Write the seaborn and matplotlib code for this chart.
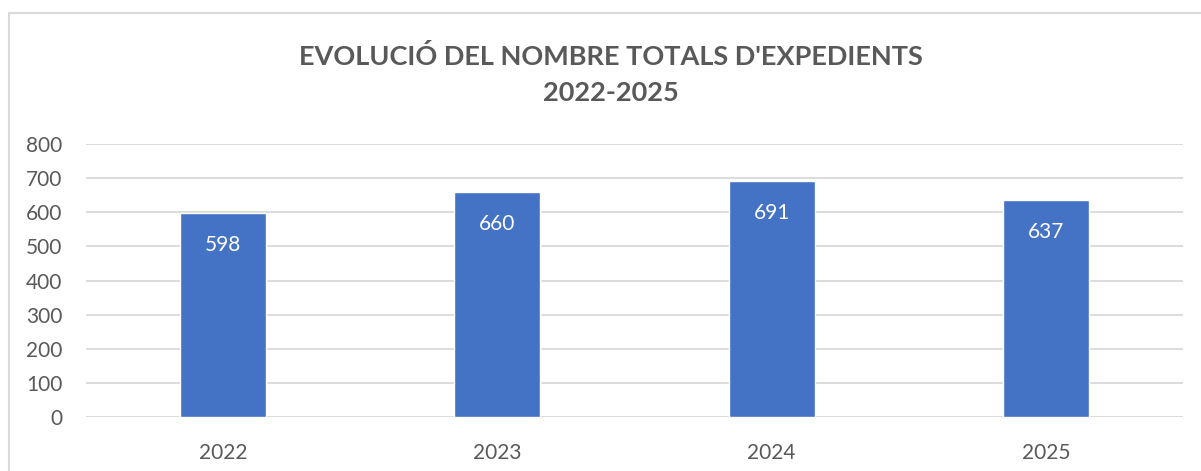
import matplotlib
matplotlib.use("Agg")
import matplotlib.pyplot as plt
import seaborn as sns
import pandas as pd

# data
years = ["2022", "2023", "2024", "2025"]
totals = [598, 660, 691, 637]
y_ticks = [0, 100, 200, 300, 400, 500, 600, 700, 800]

TITLE = "EVOLUCIÓ DEL NOMBRE TOTALS D'EXPEDIENTS\n2022-2025"
BAR_COLOR = "#4472C4"
TEXT_COLOR = "#595959"
GRID_COLOR = "#D9D9D9"

sns.set_style("white")
plt.rcParams["font.family"] = ["Lato", "DejaVu Sans"]

df = pd.DataFrame({"year": years, "total": totals})

fig = plt.figure(figsize=(12.01, 4.71), dpi=100)
ax = fig.add_axes([0.0716, 0.1146, 0.9134, 0.5797])

sns.barplot(data=df, x="year", y="total", color=BAR_COLOR, width=0.314,
            saturation=1, ax=ax, zorder=3)

ax.set_ylim(0, 800)
ax.set_yticks(y_ticks)
ax.set_xlim(-0.5, len(years) - 0.5)
ax.yaxis.grid(True, color=GRID_COLOR, linewidth=1.3, zorder=0)
ax.set_axisbelow(True)
for s in ax.spines.values():
    s.set_visible(False)
ax.tick_params(axis="both", length=0, labelsize=15, colors=TEXT_COLOR)
ax.tick_params(axis="y", pad=17)
ax.tick_params(axis="x", pad=19)
ax.set_xlabel("")
ax.set_ylabel("")

for i, v in enumerate(totals):
    ax.annotate(str(v), xy=(i, v), xytext=(0, -23), textcoords="offset points",
                ha="center", va="center", color="white", fontsize=15)

fig.text(0.509, 0.842, TITLE, ha="center", va="center", fontsize=19.5,
         fontweight="bold", color=TEXT_COLOR, linespacing=1.6)

# outer chart border (left and top edges visible)
fig.add_artist(plt.Line2D([0.0079, 0.0079], [0.0, 0.973], transform=fig.transFigure,
                          color=GRID_COLOR, linewidth=1.5))
fig.add_artist(plt.Line2D([0.0079, 1.0], [0.973, 0.973], transform=fig.transFigure,
                          color=GRID_COLOR, linewidth=1.5))

fig.savefig("out.png", dpi=100, facecolor="white")
